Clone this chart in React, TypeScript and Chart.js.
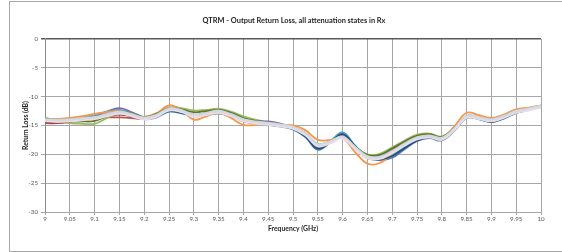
import React, { useEffect, useRef } from 'react';
import { Chart, registerables } from 'chart.js';
Chart.register(...registerables);

const chartTitle = 'QTRM - Output Return Loss, all attenuation states in Rx';
const xAxisTitle = 'Frequency (GHz)';
const yAxisTitle = 'Return Loss (dB)';

const frequencies = [
  9.0, 9.025, 9.05, 9.075, 9.1, 9.125, 9.15, 9.175, 9.2, 9.225,
  9.25, 9.275, 9.3, 9.325, 9.35, 9.375, 9.4, 9.425, 9.45, 9.475,
  9.5, 9.525, 9.55, 9.575, 9.6, 9.625, 9.65, 9.675, 9.7, 9.725,
  9.75, 9.775, 9.8, 9.825, 9.85, 9.875, 9.9, 9.925, 9.95, 9.975,
  10.0,
];

const xTickValues = [9, 9.05, 9.1, 9.15, 9.2, 9.25, 9.3, 9.35, 9.4, 9.45, 9.5, 9.55, 9.6, 9.65, 9.7, 9.75, 9.8, 9.85, 9.9, 9.95, 10];
const xTickLabels = ['9', '9.05', '9.1', '9.15', '9.2', '9.25', '9.3', '9.35', '9.4', '9.45', '9.5', '9.55', '9.6', '9.65', '9.7', '9.75', '9.8', '9.85', '9.9', '9.95', '10'];
const yTickValues = [0, -5, -10, -15, -20, -25, -30];
const yTickLabels = ['0', '-5', '-10', '-15', '-20', '-25', '-30'];

const state1 = [-14.2,-14.3,-14.1,-13.8,-13.5,-12.9,-12.5,-13.0,-13.9,-13.6, -12.6,-12.9,-13.3,-13.1,-12.9,-13.4,-14.1,-14.6,-14.9,-15.2, -15.7,-17.0,-19.2,-17.9,-16.2,-18.5,-20.5,-21.0,-20.6,-19.1, -17.7,-17.2,-17.6,-15.9,-13.6,-13.9,-14.4,-13.8,-12.8,-12.3, -11.7];
const state2 = [-14.6,-14.6,-14.4,-14.1,-13.9,-13.6,-13.6,-13.7,-13.9,-13.3, -12.0,-12.4,-13.4,-13.0,-12.5,-13.2,-14.3,-14.6,-14.6,-15.0, -15.5,-16.6,-18.6,-17.9,-16.8,-18.8,-20.7,-20.7,-19.5,-18.2, -17.2,-17.0,-17.5,-15.8,-13.5,-13.6,-14.0,-13.5,-12.6,-12.1, -11.6];
const state3 = [-13.7,-14.1,-14.6,-14.7,-14.7,-13.7,-12.6,-12.8,-13.5,-12.9, -11.9,-12.0,-12.4,-12.3,-12.1,-12.6,-13.4,-14.0,-14.5,-14.9, -15.2,-16.3,-18.2,-17.8,-17.0,-18.6,-20.0,-19.9,-18.8,-17.6, -16.6,-16.4,-16.9,-15.5,-13.4,-13.5,-13.9,-13.4,-12.5,-12.1, -11.6];
const state4 = [-14.0,-14.2,-14.0,-13.7,-13.4,-12.6,-12.0,-12.7,-13.6,-13.2, -12.0,-12.4,-13.2,-12.8,-12.3,-13.0,-14.0,-14.2,-14.3,-14.7, -15.3,-16.4,-18.5,-17.8,-16.8,-18.7,-20.2,-20.2,-19.3,-18.0, -17.0,-16.8,-17.2,-15.6,-13.4,-13.6,-14.1,-13.5,-12.5,-12.1, -11.6];
const state5 = [-13.8,-13.9,-13.8,-13.5,-13.1,-12.6,-12.3,-12.9,-13.8,-13.4, -12.5,-12.8,-13.4,-13.2,-12.9,-13.3,-14.2,-14.5,-14.8,-15.1, -15.6,-16.8,-18.8,-17.7,-16.3,-18.5,-20.4,-20.8,-20.1,-18.7, -17.4,-17.0,-17.4,-15.8,-13.6,-13.8,-14.2,-13.6,-12.7,-12.2, -11.7];
const state6 = [-13.9,-13.9,-13.7,-13.4,-13.0,-12.7,-12.5,-13.1,-13.5,-12.9, -11.5,-12.3,-14.0,-13.4,-12.8,-13.7,-14.9,-14.9,-14.7,-14.9, -15.0,-15.8,-17.5,-17.5,-17.2,-19.6,-21.6,-21.5,-19.9,-18.3, -17.0,-16.7,-17.1,-15.2,-12.8,-13.2,-13.7,-13.1,-12.2,-11.9, -11.5];
const state7 = [-14.1,-14.3,-14.2,-13.9,-13.6,-13.1,-12.8,-13.2,-13.8,-13.4, -12.5,-12.8,-13.3,-13.0,-12.7,-13.3,-14.2,-14.6,-14.8,-15.1, -15.6,-16.9,-19.0,-17.9,-16.5,-18.6,-20.6,-20.9,-20.3,-18.9, -17.6,-17.1,-17.5,-15.9,-13.7,-13.9,-14.4,-13.7,-12.8,-12.3, -11.8];
const state8 = [-14.4,-14.5,-14.3,-14.0,-13.7,-13.3,-13.1,-13.4,-13.7,-13.2, -12.1,-12.4,-13.2,-12.9,-12.6,-13.2,-14.1,-14.5,-14.7,-15.0, -15.4,-16.5,-18.4,-17.8,-17.0,-18.9,-20.6,-20.6,-19.4,-18.1, -17.1,-16.9,-17.3,-15.7,-13.4,-13.6,-14.0,-13.4,-12.5,-12.1, -11.6];
const state9 = [-13.9,-14.2,-14.3,-14.3,-14.2,-13.4,-12.7,-12.9,-13.6,-13.0, -12.0,-12.2,-12.7,-12.5,-12.3,-12.8,-13.7,-14.2,-14.5,-14.9, -15.3,-16.4,-18.3,-17.8,-17.0,-18.7,-20.1,-20.1,-19.0,-17.8, -16.8,-16.5,-17.0,-15.5,-13.4,-13.6,-14.0,-13.4,-12.5,-12.1, -11.6];
const state10 = [-14.1,-14.2,-14.1,-13.9,-13.7,-13.2,-12.8,-13.2,-13.8,-13.3, -12.2,-12.5,-13.3,-13.0,-12.6,-13.2,-14.1,-14.5,-14.7,-15.0, -15.4,-16.5,-18.4,-17.9,-17.1,-18.9,-20.5,-20.6,-19.6,-18.3, -17.2,-16.9,-17.3,-15.7,-13.5,-13.7,-14.1,-13.5,-12.6,-12.2, -11.7];
const state11 = [-13.9,-14.0,-13.9,-13.7,-13.5,-13.0,-12.6,-13.0,-13.6,-13.1, -12.0,-12.3,-13.1,-12.8,-12.4,-13.0,-13.9,-14.3,-14.5,-14.8, -15.2,-16.3,-18.2,-17.7,-16.9,-18.7,-20.3,-20.4,-19.4,-18.1, -17.0,-16.7,-17.1,-15.5,-13.3,-13.5,-13.9,-13.3,-12.4,-12.0, -11.5];
const state12 = [-14.0,-14.1,-14.0,-13.8,-13.6,-13.1,-12.7,-13.1,-13.7,-13.2, -12.1,-12.4,-13.2,-12.9,-12.5,-13.1,-14.0,-14.4,-14.6,-14.9, -15.3,-16.4,-18.3,-17.8,-17.0,-18.8,-20.4,-20.5,-19.5,-18.2, -17.1,-16.8,-17.2,-15.6,-13.4,-13.6,-14.0,-13.4,-12.5,-12.1, -11.6];
const state13 = [-14.3,-14.4,-14.3,-14.1,-13.9,-13.4,-13.0,-13.4,-14.0,-13.5, -12.4,-12.7,-13.5,-13.2,-12.8,-13.4,-14.3,-14.7,-14.9,-15.2, -15.6,-16.7,-18.6,-18.1,-17.3,-19.1,-20.7,-20.8,-19.8,-18.5, -17.4,-17.1,-17.5,-15.9,-13.7,-13.9,-14.3,-13.7,-12.8,-12.4, -11.9];

const seriesValues = [state1, state2, state3, state4, state5, state6, state7, state8, state9, state10, state11, state12, state13];
const seriesColors = ['#4F81BD', '#C0504D', '#9BBB59', '#8064A2', '#4BACC6', '#F79646', '#2C4D75', '#772C2A', '#5F7530', '#E6B9B8', '#B9CDE5', '#D9D9D9', '#E4DFEC'];

const FONT = 'Lato, "Open Sans", sans-serif';

const titleShift = {
  id: 'titleShift',
  afterLayout(chart: any) {
    const t = chart.titleBlock;
    if (t) {
      t.left = 26;
      t.right = 562;
    }
  },
};

export default function App() {
  const ref = useRef<HTMLCanvasElement | null>(null);
  useEffect(() => {
    document.body.style.margin = '0';
    document.documentElement.style.overflow = 'hidden';
    const n = seriesValues.length;
    const chart = new Chart(ref.current as HTMLCanvasElement, {
      type: 'line',
      data: {
        datasets: seriesValues.map((vals, i) => ({
          label: 'State ' + (i + 1),
          data: vals.map((v, j) => ({ x: frequencies[j], y: v })),
          borderColor: seriesColors[i],
          backgroundColor: seriesColors[i],
          borderWidth: 1.8,
          pointRadius: 0,
          tension: 0.4,
          fill: false,
          order: n - i,
        })),
      },
      options: {
        responsive: false,
        animation: false,
        layout: { padding: { left: 0, right: 21, top: 0, bottom: 0 } },
        plugins: {
          legend: { display: false },
          tooltip: { enabled: false },
          title: {
            display: true,
            text: chartTitle,
            color: '#262626',
            font: { family: FONT, size: 7.4, weight: 'bold' },
            padding: { top: 16, bottom: 14.1 },
          },
        },
        scales: {
          x: {
            type: 'linear',
            min: 9,
            max: 10,
            afterBuildTicks: (s: any) => { s.ticks = xTickValues.map((v) => ({ value: v })); },
            afterFit: (s: any) => { s.height = 40; },
            ticks: {
              autoSkip: false,
              maxRotation: 0,
              padding: 0.5,
              color: '#595959',
              font: { family: FONT, size: 6.2 },
              callback: (_v: any, i: number) => xTickLabels[i],
            },
            grid: { color: '#a6a6a6', lineWidth: 1, tickLength: 3 },
            border: { color: '#a6a6a6' },
            title: {
              display: true,
              text: xAxisTitle,
              color: '#262626',
              font: { family: FONT, size: 6.8, weight: 'bold' },
              padding: { top: 0, bottom: 18.9 },
            },
          },
          y: {
            type: 'linear',
            min: -30,
            max: 0,
            afterBuildTicks: (s: any) => { s.ticks = yTickValues.map((v) => ({ value: v })); },
            afterFit: (s: any) => { s.width = 45; },
            ticks: {
              padding: 3,
              color: '#595959',
              font: { family: FONT, size: 6.2 },
              callback: (_v: any, i: number) => yTickLabels[i],
            },
            grid: {
              color: (c: any) => (c.tick && c.tick.value === 0 ? '#595959' : '#a6a6a6'),
              lineWidth: (c: any) => (c.tick && c.tick.value === 0 ? 1.5 : 1),
              tickLength: 4,
            },
            border: { color: '#8c8c8c' },
            title: {
              display: true,
              text: yAxisTitle,
              color: '#262626',
              font: { family: FONT, size: 6.8, weight: 'bold' },
              padding: { top: 21.9, bottom: 0 },
            },
          },
        },
      },
      plugins: [titleShift],
    });
    return () => chart.destroy();
  }, []);
  return (
    <div style={{ position: 'relative', width: 562, height: 252, overflow: 'hidden', background: '#fff' }}>
      <div style={{ position: 'absolute', left: 9, top: 1, width: 620, height: 249, border: '1px solid #a6a6a6', pointerEvents: 'none' }} />
      <canvas ref={ref} width={562} height={252} style={{ position: 'absolute', left: 0, top: 0 }} />
    </div>
  );
}
